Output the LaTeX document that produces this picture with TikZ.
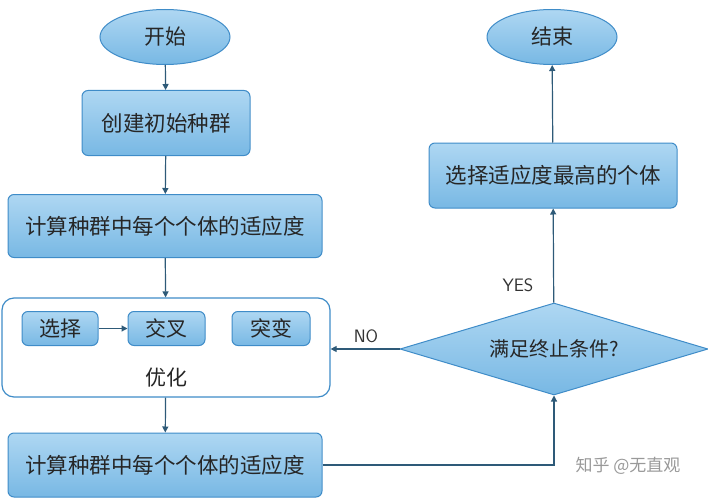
\documentclass[tikz,border=0pt]{standalone}
\usepackage{fontspec}
\newfontfamily\cjk{Noto Sans CJK SC}
\usetikzlibrary{shapes.geometric,arrows.meta}
\definecolor{bfill}{HTML}{9ACDEF}
\definecolor{bfilld}{HTML}{78B8E4}
\definecolor{bline}{HTML}{3F8CC8}
\definecolor{arr}{HTML}{2E5A78}
\begin{document}
\begin{tikzpicture}[x=1pt,y=-1pt,
  box/.style={draw=bline,line width=1pt,rounded corners=6pt,top color=bfill!80!white,bottom color=bfilld,font=\cjk\fontsize{21.5}{24}\selectfont,text=black!85,inner sep=0pt},
  oval/.style={ellipse,draw=bline,line width=1pt,top color=bfill!80!white,bottom color=bfilld,font=\cjk\fontsize{21}{24}\selectfont,text=black!85,inner sep=0pt},
  small/.style={box,font=\cjk\fontsize{21}{24}\selectfont},
  ar/.style={draw=arr,line width=1.2pt,-{Triangle[length=6pt,width=6pt]}},
  lbl/.style={font=\sffamily\fontsize{18}{20}\selectfont,text=black!80}]
\useasboundingbox (0,0) rectangle (708,500);
\node[oval,minimum width=130,minimum height=55] (start) at (165,37) {开始};
\node[box,minimum width=168,minimum height=65] (init) at (166,123) {创建初始种群};
\node[box,minimum width=314,minimum height=63] (fit1) at (165,226) {计算种群中每个个体的适应度};
\node[draw=bline,line width=1.2pt,rounded corners=12pt,fill=white,minimum width=328,minimum height=99,inner sep=0pt] (opt) at (166,347.5) {};
\node[small,minimum width=76,minimum height=34] (sel) at (60,328.5) {选择};
\node[small,minimum width=77,minimum height=34] (cross) at (166.5,328.5) {交叉};
\node[small,minimum width=78,minimum height=34] (mut) at (271,328.5) {突变};
\node[font=\cjk\fontsize{21}{24}\selectfont,text=black!85] (optl) at (166,378) {优化};
\node[box,minimum width=314,minimum height=64] (fit2) at (165,465) {计算种群中每个个体的适应度};
\node[diamond,draw=bline,line width=1pt,top color=bfill!80!white,bottom color=bfilld,minimum width=308,minimum height=92,inner sep=0pt,aspect=3.35,font=\cjk\fontsize{20}{23}\selectfont,text=black!85] (cond) at (554,349) {满足终止条件?};
\node[box,minimum width=248,minimum height=65] (best) at (553,175.5) {选择适应度最高的个体};
\node[oval,minimum width=130,minimum height=55] (end) at (552,37) {结束};
\node[lbl] (yes) at (518,285) {YES};
\node[lbl] (no) at (366,336) {NO};
\node[font=\cjk\fontsize{17}{19}\selectfont,text=black!40] (wm) at (628,466) {知乎 @无直观};
\draw[ar] (start) -- (init);
\draw[ar] (init) -- (fit1);
\draw[ar] (fit1) -- (opt);
\draw[ar] (sel) -- (cross);
\draw[ar] (opt) -- (fit2);
\draw[ar] (fit2.east) -| (cond.south);
\draw[ar] (cond.west) -- (opt.east |- cond.west);
\draw[ar] (cond) -- (best);
\draw[ar] (best) -- (end);
\end{tikzpicture}
\end{document}
